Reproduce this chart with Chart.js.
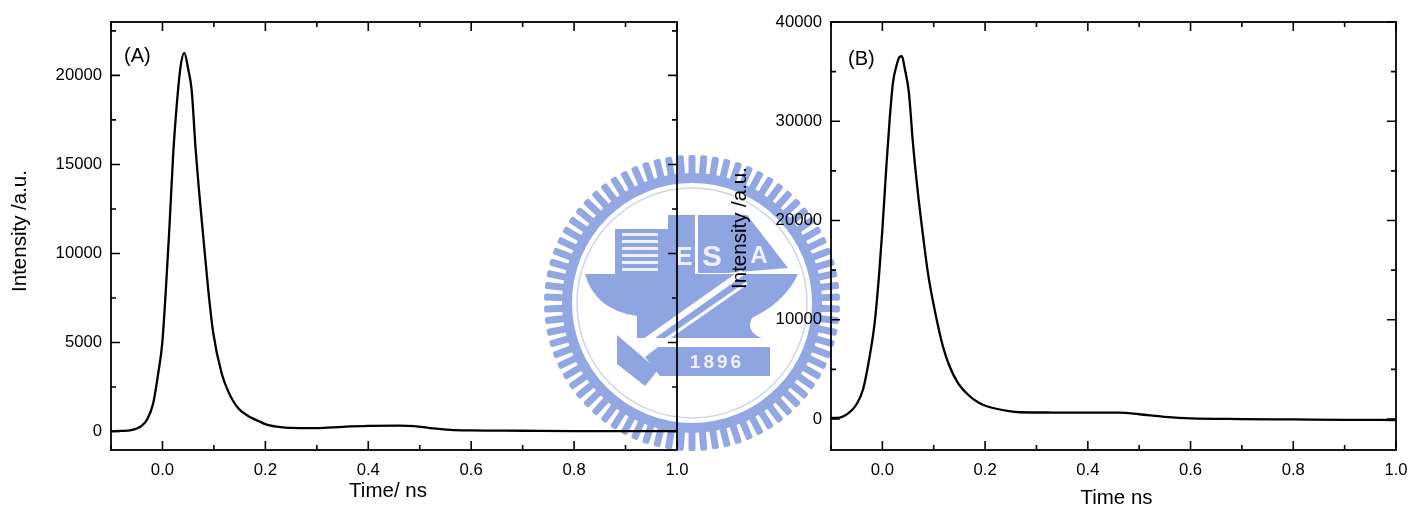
<!DOCTYPE html>
<html>
<head>
<meta charset="utf-8">
<script src="https://cdn.jsdelivr.net/npm/chart.js@4"></script>
<style>
html,body{margin:0;padding:0;background:#fff;width:1410px;height:506px;overflow:hidden}
#wm{position:absolute;left:0;top:0;width:1410px;height:506px;filter:blur(.6px)}
.p{position:absolute;top:0;height:506px}
#pa{left:0;width:720px}
#pb{left:720px;width:690px}
</style>
</head>
<body>
<svg id="wm" viewBox="0 0 1410 506" xmlns="http://www.w3.org/2000/svg">
  <g id="teeth" fill="#93a8e2"></g>
  <g fill="#8fa5e2" stroke="none">
    <circle cx="692" cy="303" r="125" fill="none" stroke="#93a8e2" stroke-width="10"/>
    <circle cx="692" cy="303" r="115" fill="none" stroke="#ccd5ef" stroke-width="1.5"/>
    <rect x="615" y="229" width="53" height="45"/>
    <g fill="#eef1fb">
      <rect x="622" y="233" width="36" height="3"/><rect x="622" y="240" width="36" height="3"/>
      <rect x="622" y="247" width="36" height="3"/><rect x="622" y="254" width="36" height="3"/>
      <rect x="622" y="261" width="36" height="3"/><rect x="622" y="268" width="36" height="3"/>
    </g>
    <rect x="668" y="215" width="27" height="59"/>
    <rect x="698" y="215" width="29" height="58"/>
    <polygon points="727,215 747,215 788,268 727,273"/>
    <path d="M585,274 L798,274 Q785,302 752,318 Q745,332 762,338 L637,338 L637,316 Q595,310 585,274 Z"/>
    <line x1="743" y1="272" x2="637" y2="347" stroke="#fff" stroke-width="6"/>
    <line x1="747" y1="283" x2="645" y2="354" stroke="#fff" stroke-width="3"/>
    <polygon points="617,335 658,370 645,386 617,364" />
    <polygon points="658,347 770,347 770,376 660,376 645,357"/>
  </g>
  <g fill="#eef1fb" font-family="Liberation Sans" font-weight="bold" text-anchor="middle">
    <text x="684" y="265" font-size="26">E</text>
    <text x="712" y="266" font-size="30">S</text>
    <text x="759" y="263" font-size="24">A</text>
    <text x="717" y="368" font-size="19" letter-spacing="3">1896</text>
  </g>
</svg>
<div class="p" id="pa"><canvas id="ca"></canvas></div>
<div class="p" id="pb"><canvas id="cb"></canvas></div>
<script>
const timeA = [-0.1,-0.08,-0.063,-0.05,-0.04,-0.0295,-0.018,-0.0082,-0.0004,0.0062,0.0133,0.021,0.0276,0.0353,0.0424,0.0502,0.0567,0.0645,0.0709,0.0781,0.089,0.0988,0.115,0.128,0.1473,0.165,0.1817,0.203,0.23,0.27,0.3,0.35,0.4,0.46,0.49,0.52,0.56,0.6,0.7,0.8,0.9,1.0];
const intensityA = [10,30,60,170,330,690,1590,3270,4960,7770,11330,15650,18270,20520,21270,20330,19200,15830,13580,11330,7960,5520,3270,2240,1300,900,650,380,240,190,190,260,310,330,300,190,90,60,40,20,20,15];
const timeB = [-0.1,-0.083,-0.0636,-0.0505,-0.0377,-0.0247,-0.015,-0.0066,0,0.0078,0.0142,0.0206,0.0272,0.0336,0.0381,0.0433,0.0517,0.0595,0.0692,0.0777,0.0887,0.1017,0.1178,0.1308,0.147,0.1664,0.1878,0.203,0.247,0.267,0.331,0.4,0.46,0.5,0.55,0.6,0.7,0.8,0.9,1.0];
const intensityB = [100,150,690,1460,2970,6330,9690,14390,19090,25470,30180,33870,35550,36490,36550,35390,32870,27830,22790,19090,14730,11030,7340,5320,3650,2470,1630,1290,790,685,655,640,650,480,220,60,0,-40,-80,-100];
const xMajor = [0,0.2,0.4,0.6,0.8,1.0];
const xMinor = [-0.1,0.1,0.3,0.5,0.7,0.9];
const yMajorA = [0,5000,10000,15000,20000];
const yMinorA = [2500,7500,12500,17500,22500];
const yMajorB = [0,10000,20000,30000,40000];
const yMinorB = [5000,15000,25000,35000];

const FONT = "Liberation Sans";
const MAJ = 9, MIN = 5;

// gear teeth of the background seal
(function(){
  const g=document.getElementById('teeth'), N=78;
  let s='';
  for(let i=0;i<N;i++){
    const a=360*i/N;
    s+='<rect x="688.5" y="155" width="7" height="22" rx="2" transform="rotate('+a+' 692 303)"/>';
  }
  g.innerHTML=s;
})();

const frame = {
  id:'frame',
  afterDatasetsDraw(chart, args, o){
    const {ctx, chartArea:a, scales:{x,y}} = chart;
    ctx.save();
    ctx.strokeStyle='#000'; ctx.lineWidth=1.8;
    ctx.strokeRect(a.left,a.top,a.right-a.left,a.bottom-a.top);
    ctx.lineWidth=1.6;
    const tick=(v,len)=>{
      const p=x.getPixelForValue(v);
      ctx.beginPath();
      ctx.moveTo(p,a.bottom);ctx.lineTo(p,a.bottom-len);
      ctx.moveTo(p,a.top);ctx.lineTo(p,a.top+len);
      ctx.stroke();
    };
    const ytick=(v,len)=>{
      const p=y.getPixelForValue(v);
      ctx.beginPath();
      ctx.moveTo(a.left,p);ctx.lineTo(a.left+len,p);
      ctx.moveTo(a.right,p);ctx.lineTo(a.right-len,p);
      ctx.stroke();
    };
    xMajor.forEach(v=>tick(v,MAJ));
    xMinor.forEach(v=>tick(v,MIN));
    o.major.forEach(v=>ytick(v,MAJ));
    o.minor.forEach(v=>ytick(v,MIN));
    ctx.fillStyle='#000';
    ctx.font='20px "'+FONT+'"';
    ctx.textBaseline='middle';ctx.textAlign='left';
    ctx.fillText(o.tag,a.left+o.tagDx,o.tagY);
    ctx.restore();
  }
};

// nudge a native axis title away from the centre of its axis
function shiftTitle(s,dx,dy){
  if(s.__shifted) return;
  s.__shifted=true;
  const orig=s.drawTitle;
  s.drawTitle=function(){
    this.ctx.save();
    this.ctx.translate(dx,dy);
    orig.apply(this,arguments);
    this.ctx.restore();
  };
}

function build(id,t,v,yMin,yMax,major,minor,xTitle,yTitle,right,tag,tagDx,tagY,xShift,yShift){
  new Chart(document.getElementById(id),{
    type:'line',
    data:{labels:t,datasets:[{data:t.map((q,i)=>({x:q,y:v[i]})),borderColor:'#000',borderWidth:2.3,pointRadius:0,cubicInterpolationMode:'monotone',fill:false}]},
    plugins:[frame],
    options:{
      responsive:false,animation:false,
      layout:{padding:{top:22,right:right,left:0,bottom:0}},
      plugins:{legend:{display:false},tooltip:{enabled:false},title:{display:false},
        frame:{major,minor,tag,tagDx,tagY}},
      scales:{
        x:{type:'linear',min:-0.1,max:1.0,
          grid:{display:false},border:{display:false},
          afterBuildTicks(s){s.ticks=xMajor.map(value=>({value}));},
          afterFit(s){s.height=56;shiftTitle(s,xShift[0],xShift[1]);},
          ticks:{padding:2,maxRotation:0,autoSkip:false,color:'#000',font:{family:FONT,size:16.7},callback:val=>val.toFixed(1)},
          title:{display:true,text:xTitle,color:'#000',font:{family:FONT,size:20.5},padding:0}},
        y:{type:'linear',min:yMin,max:yMax,
          grid:{display:false},border:{display:false},
          afterBuildTicks(s){s.ticks=major.map(value=>({value}));},
          afterFit(s){s.width=111;shiftTitle(s,yShift[0],yShift[1]);},
          ticks:{padding:1,autoSkip:false,color:'#000',font:{family:FONT,size:16.7},callback:val=>String(val)},
          title:{display:true,text:yTitle,color:'#000',font:{family:FONT,size:20.5},padding:{top:8,bottom:0}}}
      }
    }
  });
}
function size(id,w){const c=document.getElementById(id);c.width=w;c.height=506;c.style.width=w+'px';c.style.height='506px';}
size('ca',720);size('cb',690);
build('ca',timeA,intensityA,-1040,23000,yMajorA,yMinorA,'Time/ ns','Intensity /a.u.',43,'(A)',13,56,[-6,-2.7],[0,-5]);
build('cb',timeB,intensityB,-3120,40000,yMajorB,yMinorB,'Time ns','Intensity /a.u.',14,'(B)',17,59,[3,4.3],[0,-8]);
</script>
</body>
</html>
